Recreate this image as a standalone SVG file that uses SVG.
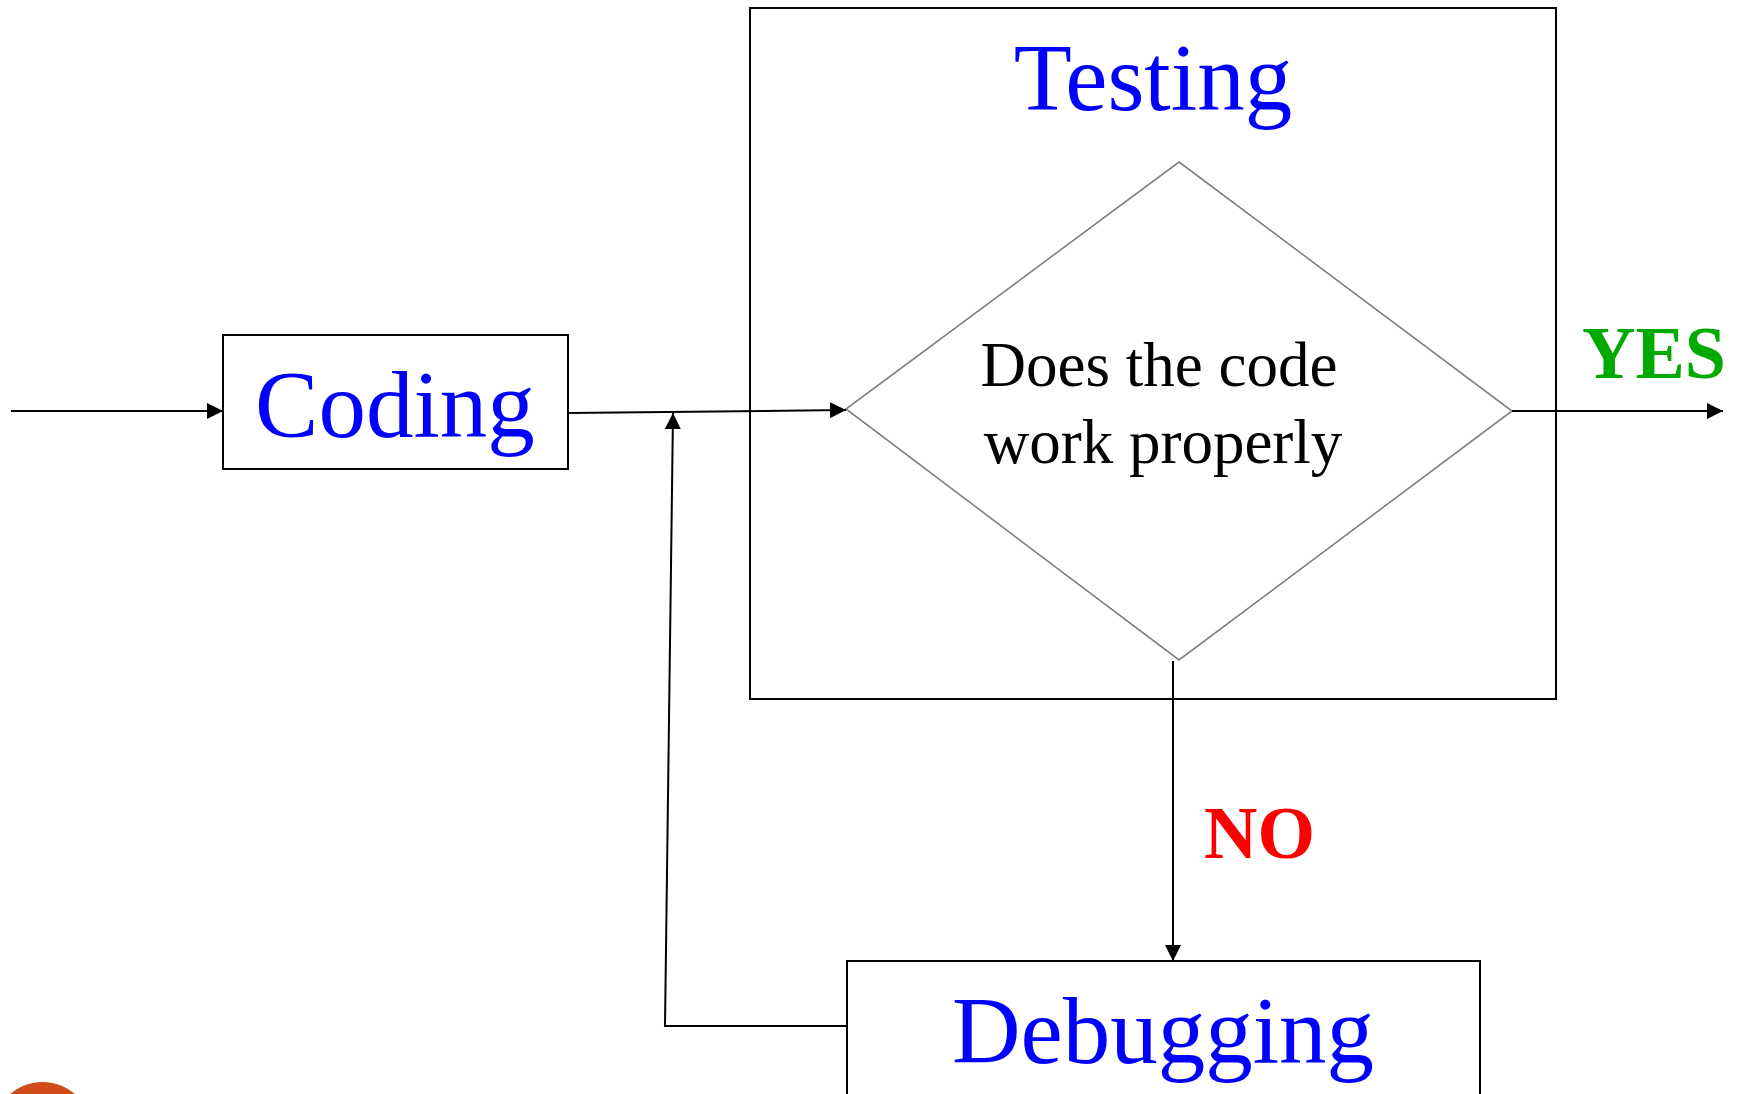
<svg xmlns="http://www.w3.org/2000/svg" width="1739" height="1094" viewBox="0 0 1739 1094">
<style>
.box{fill:#fff;stroke:#000;stroke-width:2}
.lbl{font-family:"Liberation Serif","Times New Roman",serif;font-size:95px;fill:#0000ff;text-anchor:middle}
.q{font-family:"Liberation Serif","Times New Roman",serif;font-size:63px;fill:#000;text-anchor:middle}
.ans{font-family:"Liberation Serif","Times New Roman",serif;font-size:74px;font-weight:bold}
.c{fill:none;stroke:#000;stroke-width:2}
</style>
<defs>
<marker id="ah" markerWidth="16" markerHeight="16" viewBox="0 0 16 16" refX="16" refY="8" orient="auto" markerUnits="userSpaceOnUse">
<path d="M0,0 L16,8 L0,16 z" fill="#000"/>
</marker>
</defs>
<rect width="1739" height="1094" fill="#fff"/>
<g id="testing">
<rect class="box" x="750" y="8" width="806" height="691"/>
<text class="lbl" x="1153" y="110">Testing</text>
</g>
<g id="decision">
<polygon points="1179,162 1512,411 1179,660 846,409" fill="#fff" stroke="#808080" stroke-width="1.6"/>
<text class="q" x="1159" y="386">Does the code</text>
<text class="q" x="1163" y="463">work properly</text>
</g>
<g id="coding">
<rect class="box" x="223" y="335" width="345" height="134"/>
<text class="lbl" x="395" y="437">Coding</text>
</g>
<g id="debugging">
<rect class="box" x="847" y="961" width="633" height="150"/>
<text class="lbl" x="1163" y="1063">Debugging</text>
</g>
<g id="connectors">
<line class="c" x1="11" y1="411" x2="223" y2="411" marker-end="url(#ah)"/>
<line class="c" x1="568" y1="413" x2="846" y2="410" marker-end="url(#ah)"/>
<polyline class="c" points="847,1026 665,1026 673,413" marker-end="url(#ah)"/>
<line class="c" x1="1512" y1="411" x2="1723" y2="411" marker-end="url(#ah)"/>
<line class="c" x1="1173" y1="661" x2="1173" y2="961" marker-end="url(#ah)"/>
</g>
<text class="ans" x="1582" y="378" fill="#00aa00">YES</text>
<text class="ans" x="1204" y="858" fill="#ff0000">NO</text>
<circle cx="42.5" cy="1132" r="50" fill="#d24b1b"/>
</svg>
